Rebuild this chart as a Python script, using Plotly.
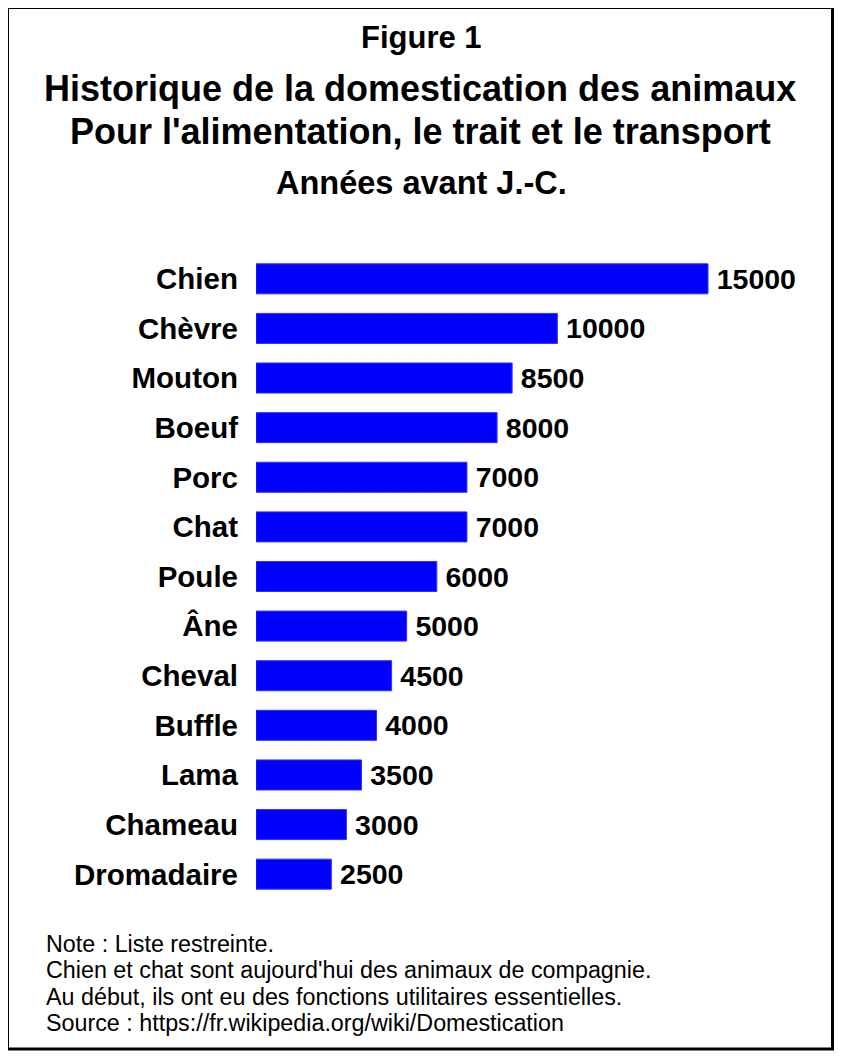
import plotly.graph_objects as go

# Données (années avant J.-C.)
animaux = ["Chien", "Chèvre", "Mouton", "Boeuf", "Porc", "Chat", "Poule",
           "Âne", "Cheval", "Buffle", "Lama", "Chameau", "Dromadaire"]
annees = [15000, 10000, 8500, 8000, 7000, 7000, 6000,
          5000, 4500, 4000, 3500, 3000, 2500]

notes = [
    "Note : Liste restreinte.",
    "Chien et chat sont aujourd'hui des animaux de compagnie.",
    "Au début, ils ont eu des fonctions utilitaires essentielles.",
    "Source : https://fr.wikipedia.org/wiki/Domestication",
]

# la page a une marge de 8 px : on travaille en coordonnées de la fenêtre
OFF = 8
W, H = 850 - OFF, 1063 - OFF
L, R, T, B = 256 - OFF, 44, 254 - OFF, 164
PW, PH = W - L - R, H - T - B
FONT = "Liberation Sans, Arial, sans-serif"


def px(x):
    return (x - OFF - L) / PW


def py(y):
    return (H - B - (y - OFF)) / PH


fig = go.Figure(go.Bar(
    x=annees, y=animaux, orientation="h",
    marker=dict(color="#0000FF", line=dict(color="#3030ff", width=1)),
    text=annees, texttemplate="\u2009%{text}", textposition="outside",
    cliponaxis=False, constraintext="none",
    textfont=dict(family=FONT, size=28.5, color="black", weight="bold"),
))

annots = [
    dict(text="<b>Figure 1</b>", x=px(421), y=py(38), size=31),
    dict(text="<b>Historique de la domestication des animaux</b>", x=px(420), y=py(88), size=36),
    dict(text="<b>Pour l'alimentation, le trait et le transport</b>", x=px(420), y=py(131), size=36),
    dict(text="<b>Années avant J.-C.</b>", x=px(421), y=py(183), size=32.5),
]
for a in annots:
    fig.add_annotation(text=a["text"], x=a["x"], y=a["y"], xref="paper", yref="paper",
                       xanchor="center", yanchor="middle", showarrow=False,
                       font=dict(family=FONT, size=a["size"], color="black"))

for i, line in enumerate(notes):
    fig.add_annotation(text=line, x=px(44), y=py(944 + i * 26.3), xref="paper", yref="paper",
                       xanchor="left", yanchor="middle", showarrow=False,
                       font=dict(family=FONT, size=23.3, color="black"))

# cadre
fig.add_shape(type="rect", xref="paper", yref="paper",
              x0=px(7.5), x1=px(832.5), y0=py(7.5), y1=py(1049),
              line=dict(color="black", width=3))

fig.update_layout(
    width=W, height=H,
    margin=dict(l=L, r=R, t=T, b=B),
    paper_bgcolor="white", plot_bgcolor="white",
    bargap=0.395, showlegend=False,
    font=dict(family=FONT, color="black"),
)
fig.update_xaxes(range=[0, 15000 * PW / 452], visible=False)
fig.update_yaxes(autorange="reversed", showline=False, showgrid=False, ticks="",
                 ticklabelstandoff=17,
                 tickfont=dict(family=FONT, size=29.5, color="black", weight="bold"))

fig.write_html("out.html")
